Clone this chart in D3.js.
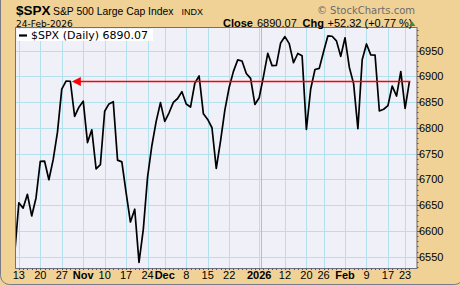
<!DOCTYPE html>
<html>
<head>
<meta charset="utf-8">
<script src="https://cdn.jsdelivr.net/npm/d3@7"></script>
<style>
  html, body { margin: 0; padding: 0; background: #f1d296; }
  svg { display: block; }
</style>
</head>
<body>
<svg id="chart" width="460" height="285"></svg>
<script>
// Daily closes of $SPX, 10-Oct-2025 .. 24-Feb-2026
const dates = [
  "2025-10-10","2025-10-13","2025-10-14","2025-10-15","2025-10-16","2025-10-17",
  "2025-10-20","2025-10-21","2025-10-22","2025-10-23","2025-10-24",
  "2025-10-27","2025-10-28","2025-10-29","2025-10-30","2025-10-31",
  "2025-11-03","2025-11-04","2025-11-05","2025-11-06","2025-11-07",
  "2025-11-10","2025-11-11","2025-11-12","2025-11-13","2025-11-14",
  "2025-11-17","2025-11-18","2025-11-19","2025-11-20","2025-11-21",
  "2025-11-24","2025-11-25","2025-11-26","2025-11-28",
  "2025-12-01","2025-12-02","2025-12-03","2025-12-04","2025-12-05",
  "2025-12-08","2025-12-09","2025-12-10","2025-12-11","2025-12-12",
  "2025-12-15","2025-12-16","2025-12-17","2025-12-18","2025-12-19",
  "2025-12-22","2025-12-23","2025-12-24","2025-12-26",
  "2025-12-29","2025-12-30","2025-12-31","2026-01-02",
  "2026-01-05","2026-01-06","2026-01-07","2026-01-08","2026-01-09",
  "2026-01-12","2026-01-13","2026-01-14","2026-01-15","2026-01-16",
  "2026-01-20","2026-01-21","2026-01-22","2026-01-23",
  "2026-01-26","2026-01-27","2026-01-28","2026-01-29","2026-01-30",
  "2026-02-02","2026-02-03","2026-02-04","2026-02-05","2026-02-06",
  "2026-02-09","2026-02-10","2026-02-11","2026-02-12","2026-02-13",
  "2026-02-17","2026-02-18","2026-02-19","2026-02-20",
  "2026-02-23","2026-02-24"
];

const closes = [
  6552.5, 6654.7, 6644.3, 6671.1, 6629.1, 6664.0,
  6735.1, 6735.4, 6699.4, 6738.4, 6791.7,
  6875.2, 6890.9, 6890.6, 6822.3, 6840.2,
  6852.0, 6771.6, 6796.3, 6720.3, 6728.8,
  6832.4, 6846.6, 6850.9, 6737.5, 6734.1,
  6674.0, 6617.3, 6642.2, 6538.8, 6603.0,
  6705.1, 6765.9, 6812.6, 6849.1,
  6812.6, 6829.4, 6849.7, 6857.1, 6870.4,
  6846.5, 6840.5, 6886.7, 6901.0, 6827.4,
  6816.5, 6800.3, 6721.4, 6774.8, 6834.5,
  6878.5, 6909.8, 6932.1, 6929.9,
  6905.7, 6896.2, 6845.5, 6858.5,
  6900.0, 6944.8, 6920.9, 6921.5, 6965.0,
  6977.3, 6963.7, 6926.6, 6944.5, 6940.0,
  6796.9, 6875.6, 6913.4, 6915.6,
  6948.0, 6978.6, 6978.0, 6969.0, 6939.0,
  6975.0, 6917.8, 6886.0, 6798.4, 6932.3,
  6963.0, 6941.8, 6941.5, 6832.8, 6836.2,
  6843.2, 6881.3, 6861.9, 6909.5,
  6837.75, 6890.07
];

// x-axis labels (weekly) and y-axis ticks
const tickDates = ["2025-10-13","2025-10-20","2025-10-27","2025-11-03","2025-11-10",
  "2025-11-17","2025-11-24","2025-12-01","2025-12-08","2025-12-15","2025-12-22",
  "2026-01-02","2026-01-12","2026-01-20","2026-01-26","2026-02-02","2026-02-09",
  "2026-02-17","2026-02-23"];
const tickLabels = ["13","20","27","Nov","10","17","24","Dec","8","15","22",
  "2026","12","20","26","Feb","9","17","23"];
const boldLabels = ["Nov","Dec","2026","Feb"];
const yTicks = [6550, 6600, 6650, 6700, 6750, 6800, 6850, 6900, 6950];

// arrow annotation: last close back to the late-October high
const arrowFrom = "2026-02-24";
const arrowTo = "2025-10-29";
const arrowLevel = 6890.07;

const svg = d3.select("#chart");
const plot = { left: 16, right: 416.5, top: 28, bottom: 268 };

// frame
svg.append("rect")
    .attr("x", 0.5).attr("y", -10)
    .attr("width", 463).attr("height", 294.5)
    .attr("rx", 9)
    .style("fill", "#f1d296")
    .style("stroke", "#7a7a88")
    .style("stroke-width", 1);

const x = d3.scaleLinear()
    .domain([0, dates.length - 1])
    .range([14.55, 409.4]);

const y = d3.scaleLinear()
    .domain([6528, 6994])
    .range([plot.bottom, plot.top]);

// plot background
svg.append("rect")
    .attr("x", plot.left).attr("y", plot.top)
    .attr("width", plot.right - plot.left).attr("height", plot.bottom - plot.top)
    .style("fill", "#eff0f8");

svg.append("clipPath").attr("id", "clip")
  .append("rect")
    .attr("x", plot.left).attr("y", plot.top)
    .attr("width", plot.right - plot.left).attr("height", plot.bottom - plot.top);

const g = svg.append("g").attr("clip-path", "url(#clip)");

// grid
g.selectAll(".hgrid")
    .data(yTicks)
    .enter().append("line")
    .attr("x1", plot.left).attr("x2", plot.right)
    .attr("y1", d => Math.round(y(d)) + 0.5)
    .attr("y2", d => Math.round(y(d)) + 0.5)
    .style("stroke", "#b3e0ec")
    .style("stroke-width", 1);

g.selectAll(".vgrid")
    .data(tickDates)
    .enter().append("line")
    .attr("x1", d => Math.round(x(dates.indexOf(d))) + 0.5)
    .attr("x2", d => Math.round(x(dates.indexOf(d))) + 0.5)
    .attr("y1", plot.top).attr("y2", plot.bottom)
    .style("stroke", "#b3e0ec")
    .style("stroke-width", 1);

// year divider sits just after the first session of the year
g.append("line")
    .attr("x1", Math.round(x(dates.indexOf("2026-01-02"))) + 2.5)
    .attr("x2", Math.round(x(dates.indexOf("2026-01-02"))) + 2.5)
    .attr("y1", plot.top).attr("y2", plot.bottom)
    .style("stroke", "#8ccde0");

// legend box
svg.append("rect")
    .attr("x", plot.left + 1).attr("y", plot.top + 1)
    .attr("width", 136).attr("height", 12)
    .style("fill", "#ffffff");
svg.append("line")
    .attr("x1", 19).attr("x2", 27)
    .attr("y1", 35.5).attr("y2", 35.5)
    .style("stroke", "#000").style("stroke-width", 2.2);
svg.append("text")
    .attr("x", 31).attr("y", 39)
    .style("font-family", "DejaVu Sans")
    .style("font-size", "11px")
    .style("fill", "#000")
    .text("$SPX (Daily) " + d3.format(".2f")(closes[closes.length - 1]));

// price line
const line = d3.line()
    .x((d, i) => x(i))
    .y(d => y(d));

g.append("path")
    .datum(closes)
    .attr("d", line)
    .style("fill", "none")
    .style("stroke", "#000")
    .style("stroke-width", 1.7)
    .style("stroke-linejoin", "round");

// red arrow
const ax1 = x(dates.indexOf(arrowFrom)) + 1;
const ax0 = x(dates.indexOf(arrowTo)) + 1.5;
const ay = y(arrowLevel);
g.append("line")
    .attr("x1", ax0 + 6).attr("x2", ax1)
    .attr("y1", ay).attr("y2", ay)
    .style("stroke", "#ff0000")
    .style("stroke-width", 1.5);
g.append("path")
    .attr("d", `M${ax0},${ay} L${ax0 + 9},${ay - 4.5} L${ax0 + 9},${ay + 4.5} Z`)
    .style("fill", "#ff0000");

// plot border
svg.append("rect")
    .attr("x", plot.left - 0.5).attr("y", plot.top - 0.5)
    .attr("width", plot.right - plot.left + 1).attr("height", plot.bottom - plot.top + 1)
    .style("fill", "none")
    .style("stroke", "#6e6e84")
    .style("stroke-width", 1);

// bottom axis: a dot per session, labels per week
svg.selectAll(".dayTick")
    .data(dates)
    .enter().append("line")
    .attr("x1", (d, i) => Math.round(x(i)) + 0.5)
    .attr("x2", (d, i) => Math.round(x(i)) + 0.5)
    .attr("y1", plot.bottom + 0.5).attr("y2", plot.bottom + 2)
    .style("stroke", (d, i) => x(i) < plot.left ? "none" : "#55556a");

svg.selectAll(".xlab")
    .data(tickDates)
    .enter().append("text")
    .attr("x", d => x(dates.indexOf(d)))
    .attr("y", 279)
    .attr("text-anchor", "middle")
    .style("font-family", "Liberation Sans")
    .style("font-size", "11px")
    .style("font-weight", (d, i) => boldLabels.includes(tickLabels[i]) ? "bold" : "normal")
    .style("fill", "#000")
    .text((d, i) => tickLabels[i]);

// right axis
const minorY = d3.range(6530, 6991, 10);
svg.selectAll(".yMinor")
    .data(minorY)
    .enter().append("line")
    .attr("x1", plot.right + 0.5).attr("x2", d => plot.right + (d % 50 === 0 ? 3.5 : 2))
    .attr("y1", d => Math.round(y(d)) + 0.5)
    .attr("y2", d => Math.round(y(d)) + 0.5)
    .style("stroke", "#55556a");

svg.selectAll(".ylab")
    .data(yTicks)
    .enter().append("text")
    .attr("x", 419)
    .attr("y", d => y(d) + 4)
    .style("font-family", "Liberation Sans")
    .style("font-size", "11px")
    .style("fill", "#000")
    .text(d => d);

// header
const title = svg.append("text")
    .attr("x", 16).attr("y", 15)
    .style("font-family", "Liberation Sans")
    .style("fill", "#000");
title.append("tspan").style("font-size", "13.5px").style("font-weight", "bold").text("$SPX");
title.append("tspan").attr("x", 53).style("font-size", "10.4px").text("S&P 500 Large Cap Index");
title.append("tspan").attr("x", 181.5).style("font-size", "9px").text("INDX");

svg.append("text")
    .attr("x", 16).attr("y", 26.5)
    .style("font-family", "DejaVu Sans")
    .style("font-size", "9px")
    .style("fill", "#000")
    .text("24-Feb-2026");

svg.append("text")
    .attr("x", 415).attr("y", 14)
    .attr("text-anchor", "end")
    .style("font-family", "DejaVu Sans")
    .style("font-size", "10px")
    .style("fill", "#6c6c6c")
    .text("© StockCharts.com");

const last = closes[closes.length - 1];
const prev = closes[closes.length - 2];
const chg = last - prev;
const quote = svg.append("text")
    .attr("y", 26.5)
    .style("font-family", "Liberation Sans")
    .style("font-size", "11px")
    .style("fill", "#000");
quote.append("tspan").attr("x", 223).style("font-weight", "bold").text("Close");
quote.append("tspan").attr("x", 257).text(d3.format(".2f")(last));
quote.append("tspan").attr("x", 302.5).style("font-weight", "bold").text("Chg");
quote.append("tspan").attr("x", 327.5)
    .text(d3.format("+.2f")(chg) + " (" + d3.format("+.2f")(chg / prev * 100) + " %)");

svg.append("path")
    .attr("d", "M409,26 L412.2,21.5 L415.4,26 Z")
    .style("fill", "#3c8a3c");
</script>
</body>
</html>
